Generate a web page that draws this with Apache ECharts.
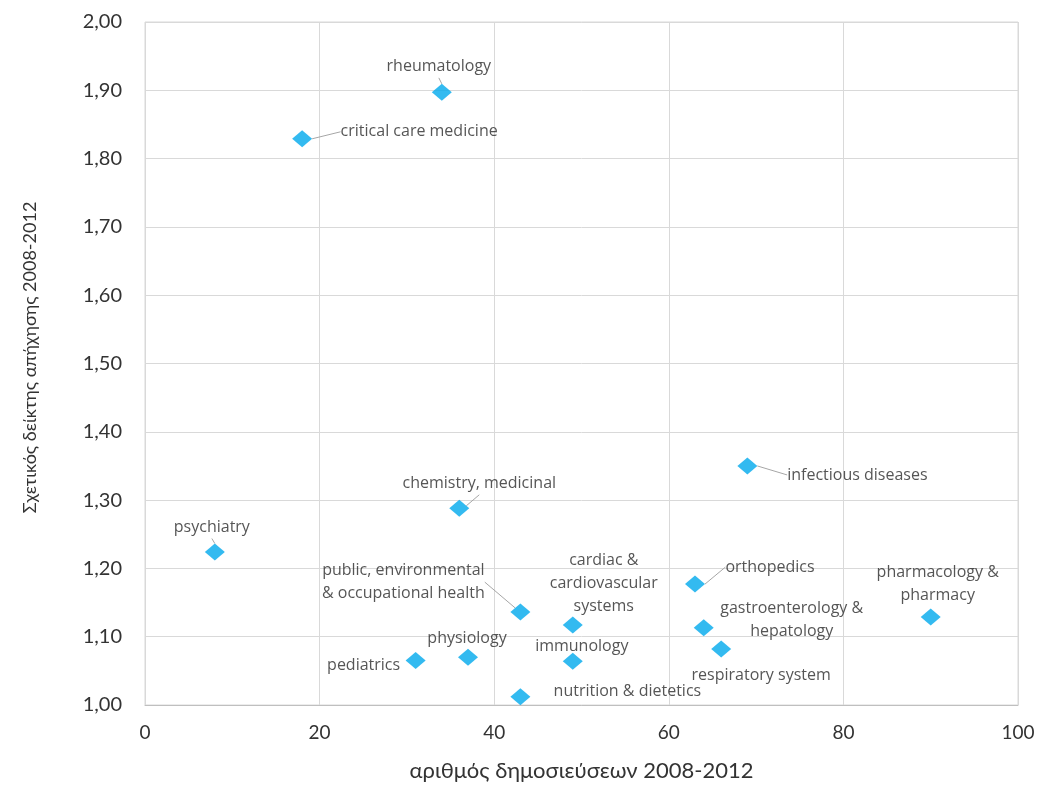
<!DOCTYPE html>
<html>
<head>
<meta charset="utf-8">
<script src="https://cdn.jsdelivr.net/npm/echarts@6/dist/echarts.min.js"></script>
<style>
  html, body { margin: 0; padding: 0; background: #fff; }
  #chart { width: 1040px; height: 785px; }
</style>
</head>
<body>
<div id="chart"></div>
<script>
// fields and their values
const names = [
  'rheumatology', 'critical care medicine', 'infectious diseases', 'chemistry, medicinal',
  'psychiatry', 'orthopedics', 'public, environmental\n& occupational health',
  'cardiac &\ncardiovascular\nsystems', 'pharmacology &\npharmacy', 'gastroenterology &\nhepatology',
  'respiratory system', 'physiology', 'pediatrics', 'immunology', 'nutrition & dietetics'
]
const publications = [34, 18, 69, 36, 8, 63, 43, 49, 90, 64, 66, 37, 31, 49, 43]
const impact = [1.897, 1.829, 1.35, 1.288, 1.224, 1.177, 1.136, 1.117, 1.129, 1.113, 1.082, 1.07, 1.065, 1.064, 1.012]

// label offsets (px from the marker) and whether a leader line is drawn
const labelShift = [
  [-3, -26, true], [117, -7, true], [110, 9, true], [20, -25, true],
  [-3, -25, true], [75, -17, true], [-117, -30, true], [31, -42, false],
  [7, -33, false], [88, -8, false], [40, 26, false], [-1, -19, false],
  [-52, 5, false], [9, -15, false], [107, -5, false]
]

const chart = echarts.init(document.getElementById('chart'))

const points = names.map((n, i) => ({
  name: n,
  value: [publications[i], impact[i]],
  labelLine: { show: labelShift[i][2] }
}))

const option = {
  animation: false,
  textStyle: { fontFamily: 'Open Sans' },
  grid: {
    left: 145, right: 22, top: 22, bottom: 80,
    outerBoundsMode: 'none',
    show: true, borderColor: '#d9d9d9', borderWidth: 1
  },
  xAxis: {
    type: 'value',
    min: 0, max: 100, interval: 20,
    name: 'αριθμός δημοσιεύσεων 2008-2012',
    nameLocation: 'middle',
    nameGap: 55,
    nameTextStyle: { fontSize: 22, color: '#333', fontFamily: 'Lato' },
    axisLine: { show: true, lineStyle: { color: '#bfbfbf' } },
    axisTick: { show: false },
    axisLabel: { fontSize: 19, color: '#333', margin: 18, fontFamily: 'Lato' },
    splitLine: { lineStyle: { color: '#d9d9d9' } }
  },
  yAxis: {
    type: 'value',
    min: 1, max: 2, interval: 0.1,
    name: 'Σχετικός δείκτης απήχησης 2008-2012',
    nameLocation: 'middle',
    nameGap: 106,
    nameRotate: 90,
    nameTextStyle: { fontSize: 18, color: '#333', fontFamily: 'Lato', padding: [0, 0, 0, 12] },
    axisLine: { show: false },
    axisTick: { show: false },
    axisLabel: {
      fontSize: 20, color: '#333', margin: 23, fontFamily: 'Lato',
      formatter: v => v.toFixed(2).replace('.', ',')
    },
    splitLine: { lineStyle: { color: '#d9d9d9' } }
  },
  series: [{
    type: 'scatter',
    symbol: 'diamond',
    symbolSize: [20, 17],
    itemStyle: { color: '#00a9ec' },
    data: points,
    label: {
      show: true,
      position: 'inside',
      align: 'center',
      verticalAlign: 'middle',
      formatter: p => p.name,
      fontSize: 16,
      lineHeight: 23,
      color: '#2b2b2b',
      fontFamily: 'Open Sans'
    },
    labelLine: { show: false, lineStyle: { color: '#a6a6a6', width: 1 } },
    labelLayout: p => ({ dx: labelShift[p.dataIndex][0], dy: labelShift[p.dataIndex][1] })
  }]
}

chart.setOption(option)
</script>
</body>
</html>
